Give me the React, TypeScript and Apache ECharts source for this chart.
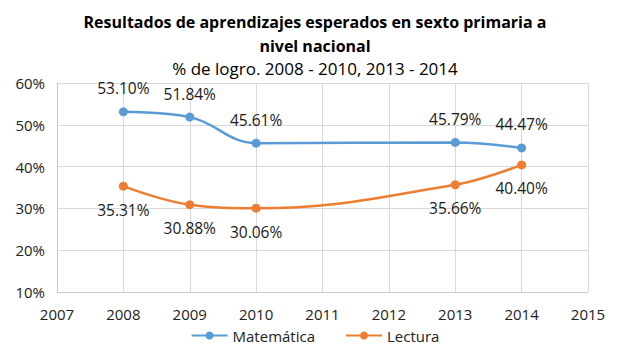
import React, { useEffect, useRef } from "react";
import * as echarts from "echarts";

const years = [2008, 2009, 2010, 2013, 2014];
const matematica = [53.1, 51.84, 45.61, 45.79, 44.47];
const lectura = [35.31, 30.88, 30.06, 35.66, 40.4];
const seriesNames = ["Matemática", "Lectura"];
const titleLines = ["Resultados de aprendizajes esperados en sexto primaria a", "nivel nacional"];
const subtitle = "% de logro. 2008 - 2010, 2013 - 2014";

const FONT = "'Open Sans', 'Noto Sans', sans-serif";

export default function App() {
  const ref = useRef<HTMLDivElement>(null);
  useEffect(() => {
    if (!ref.current) return;
    const chart = echarts.init(ref.current, undefined, { renderer: "svg" });
    const mk = (vals: number[]) => years.map((y, i) => [y, vals[i]]);
    chart.setOption({
      animation: false,
      backgroundColor: "#ffffff",
      textStyle: { fontFamily: FONT },
      title: [
        {
          text: titleLines.join("\n"),
          left: "center",
          top: 5,
          textStyle: { fontFamily: FONT, fontSize: 16, fontWeight: "bold", color: "#000", lineHeight: 24 },
        },
        {
          text: subtitle,
          left: "center",
          top: 55,
          textStyle: { fontFamily: FONT, fontSize: 17, fontWeight: "normal", color: "#000" },
        },
      ],
      legend: {
        bottom: 6,
        left: "center",
        itemWidth: 36,
        itemHeight: 10,
        itemGap: 30,
        textStyle: { fontFamily: FONT, fontSize: 15, color: "#222" },
        data: seriesNames,
      },
      grid: { left: 57, right: 42, top: 83, bottom: 62 },
      xAxis: {
        type: "value",
        min: 2007,
        max: 2015,
        interval: 1,
        axisLine: { show: true, lineStyle: { color: "#c8c8c8" } },
        axisTick: { show: false },
        splitLine: { show: true, lineStyle: { color: "#d9d9d9" } },
        axisLabel: { fontFamily: FONT, fontSize: 15, color: "#222", margin: 14, formatter: (v: number) => String(v) },
      },
      yAxis: {
        type: "value",
        min: 10,
        max: 60,
        interval: 10,
        axisLine: { show: true, lineStyle: { color: "#c8c8c8" } },
        axisTick: { show: false },
        splitLine: { show: true, lineStyle: { color: "#d9d9d9" } },
        axisLabel: { fontFamily: FONT, fontSize: 15, color: "#222", formatter: "{value}%", margin: 12 },
      },
      series: [
        {
          name: seriesNames[0],
          type: "line",
          data: mk(matematica),
          smooth: 0.4,
          symbol: "circle",
          symbolSize: 9,
          color: "#5B9BD5",
          lineStyle: { width: 2.5, color: "#5B9BD5" },
          label: {
            show: true,
            position: "top",
            distance: 11,
            fontFamily: FONT,
            fontSize: 15.5,
            color: "#1a1a1a",
            formatter: (p: any) => p.value[1].toFixed(2) + "%",
          },
        },
        {
          name: seriesNames[1],
          type: "line",
          data: mk(lectura),
          smooth: 0.4,
          symbol: "circle",
          symbolSize: 9,
          color: "#ED7D31",
          lineStyle: { width: 2.5, color: "#ED7D31" },
          label: {
            show: true,
            position: "bottom",
            distance: 11,
            fontFamily: FONT,
            fontSize: 15.5,
            color: "#1a1a1a",
            formatter: (p: any) => p.value[1].toFixed(2) + "%",
          },
        },
      ],
    });
    return () => chart.dispose();
  }, []);
  return <div ref={ref} style={{ position: "fixed", left: 0, top: 0, width: 630, height: 354 }} />;
}
